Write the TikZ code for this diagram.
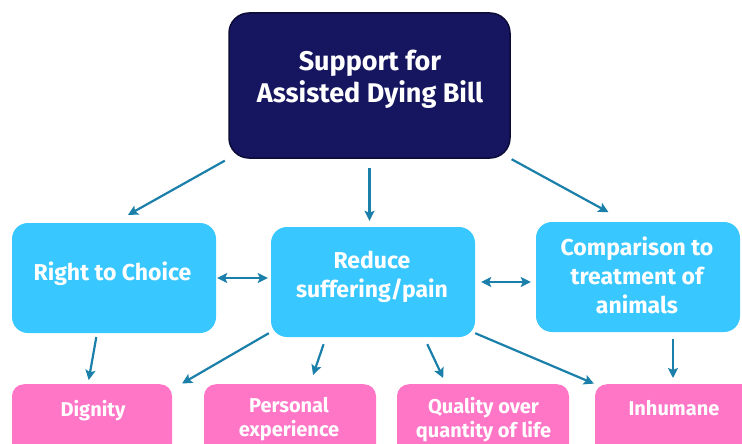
\documentclass[tikz,border=0pt]{standalone}
\usepackage{fontspec}
\setmainfont{Fira Sans}
\usetikzlibrary{arrows.meta}

\definecolor{billnavy}{HTML}{161660}
\definecolor{billedge}{HTML}{0C0C38}
\definecolor{reasonblue}{HTML}{38C7FF}
\definecolor{pointpink}{HTML}{FF76C7}
\definecolor{linkteal}{HTML}{1A7FA9}

\tikzset{
  billbox/.style={fill=billnavy, draw=billedge, line width=1.5pt, rounded corners=20pt,
    minimum width=281pt, minimum height=145pt},
  reasonbox/.style={fill=reasonblue, rounded corners=16pt, minimum width=204pt, minimum height=110pt},
  pointbox/.style={fill=pointpink, rounded corners=12pt, minimum width=#1, minimum height=100pt, anchor=north},
  billtext/.style={text=white, align=center, font=\fontsize{27}{32}\selectfont\bfseries},
  reasontext/.style={text=white, align=center, font=\fontsize{23}{29}\selectfont\bfseries},
  pointtext/.style={text=white, align=center, font=\fontsize{20}{24}\selectfont\bfseries},
  link/.style={linkteal, line width=2.2pt, -{Stealth[length=10pt,width=10pt,inset=2pt]}},
  twoway/.style={link, {Stealth[length=10pt,width=10pt,inset=2pt]}-{Stealth[length=10pt,width=10pt,inset=2pt]}}
}

\begin{document}
\begin{tikzpicture}[x=1pt,y=-1pt]

\path[use as bounding box, clip] (0,0) rectangle (742,444);

% the bill itself
\node[billbox] (bill) at (369.5,85.5) {};
\node[billtext] (billtext) at (370,79) {Support for\\Assisted Dying Bill};

% reasons
\node[reasonbox] (choice) at (114,278) {};
\node[reasonbox] (reduce) at (373,282) {};
\node[reasonbox] (animals) at (638,277) {};
\node[reasontext] (choicetext) at (112.5,273.5) {Right to Choice};
\node[reasontext] (reducetext) at (372,276.5) {Reduce\\suffering/pain};
\node[reasontext] (animalstext) at (637,275) {Comparison to\\treatment of\\animals};

% points under the reasons
\node[pointbox=160pt] (dignity) at (92,384) {};
\node[pointbox=172pt] (personal) at (290,384) {};
\node[pointbox=172pt] (quality) at (483,384) {};
\node[pointbox=160pt] (inhumane) at (675,384) {};
\node[pointtext] (dignitytext) at (93,410.7) {Dignity};
\node[pointtext] (personaltext) at (289,418.7) {Personal\\experience};
\node[pointtext] (qualitytext) at (483.5,419.7) {Quality over\\quantity of life};
\node[pointtext] (inhumanetext) at (674,408.5) {Inhumane};

% bill to reasons
\draw[link, shorten <=4pt, shorten >=16pt] (bill.south west) -- (choice.north);
\draw[link, shorten <=9pt, shorten >=6pt] (bill.south) -- (bill.south |- reduce.north);
\draw[link, shorten <=1pt, shorten >=20pt] (bill.south east) -- ([xshift=-12pt]animals.north);

% reasons link up
\draw[twoway, shorten <=1pt, shorten >=3pt] (choice.east) -- (choice.east -| reduce.west);
\draw[twoway, shorten <=6pt, shorten >=5pt] (reduce.east) -- (reduce.east -| animals.west);

% reasons to points
\draw[link, shorten <=4pt, shorten >=4pt] ([xshift=-17pt]choice.south) -- ([xshift=-4pt]dignity.north);
\draw[link, shorten >=1pt] ([shift={(-2pt,4pt)}]reduce.south west) -- ([xshift=9pt]dignity.north east);
\draw[link, shorten <=7.4pt, shorten >=9.5pt] ([xshift=-47pt]reduce.south) -- ([xshift=20pt]personal.north);
\draw[link, shorten <=7.7pt, shorten >=6.6pt] ([xshift=51pt]reduce.south) -- ([xshift=-37pt]quality.north);
\draw[link, shorten >=1pt] ([yshift=4pt]reduce.south east) -- (inhumane.north west);
\draw[link, shorten <=7pt, shorten >=6pt] ([xshift=35pt]animals.south) -- ([xshift=35pt]animals.south |- inhumane.north);

\end{tikzpicture}
\end{document}
